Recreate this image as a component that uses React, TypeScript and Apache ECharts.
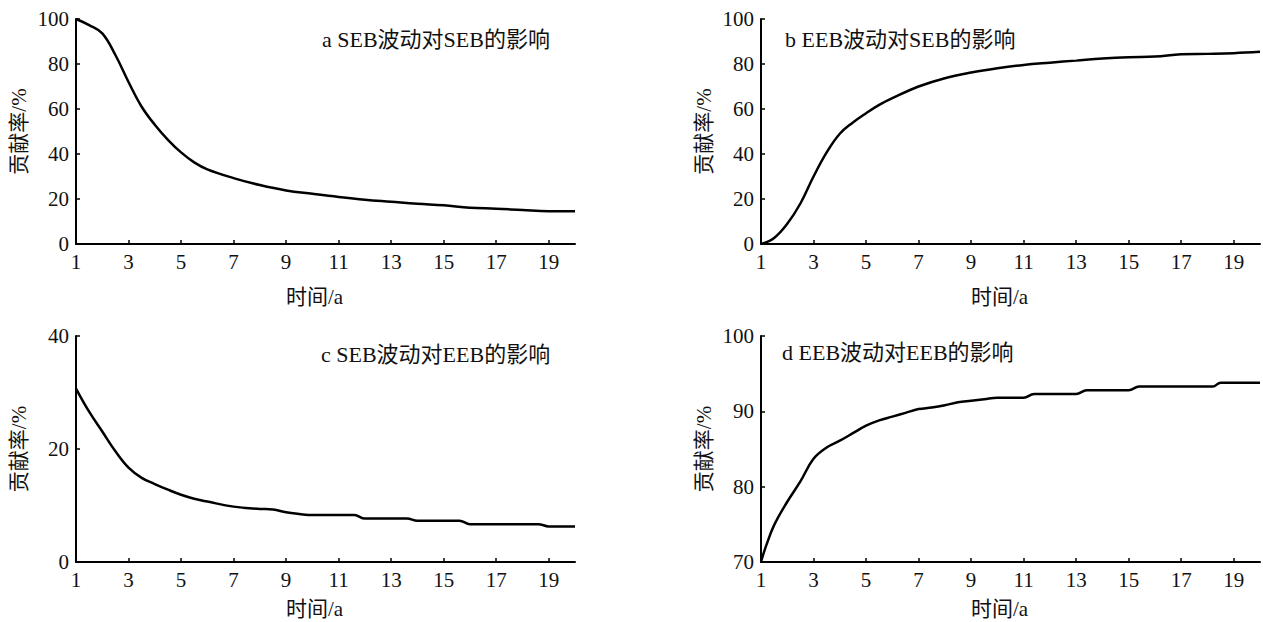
import React, { useEffect, useRef } from "react";
import * as echarts from "echarts";

const xTicks = [1, 3, 5, 7, 9, 11, 13, 15, 17, 19];

// a SEB波动对SEB的影响
const seriesA = [
  [1, 100], [1.5, 97.3], [2, 93.6], [2.5, 84], [3, 72], [3.5, 61], [4, 53], [4.5, 46.3],
  [5, 40.7], [5.5, 36.3], [6, 33.2], [7, 29.3], [8, 26.2], [9, 23.8], [10, 22.3], [11, 20.9],
  [12, 19.7], [13, 18.8], [14, 17.9], [15, 17.2], [16, 16.1], [17, 15.7], [18, 15.1],
  [19, 14.6], [20, 14.6],
];
// b EEB波动对SEB的影响
const seriesB = [
  [1, 0], [1.5, 2.7], [2, 9], [2.5, 18], [3, 30], [3.5, 40.7], [4, 49], [4.5, 54],
  [5, 58.1], [5.5, 61.8], [6, 64.8], [7, 70], [8, 73.7], [9, 76.2], [10, 78.1], [11, 79.6],
  [12, 80.6], [13, 81.5], [14, 82.4], [15, 83], [16, 83.3], [17, 84.3], [18, 84.5],
  [19, 84.8], [20, 85.4],
];
// c SEB波动对EEB的影响
const seriesC = [
  [1, 30.7], [1.5, 26.6], [2, 23.1], [2.5, 19.6], [3, 16.7], [3.5, 14.9], [4, 13.8],
  [4.5, 12.8], [5, 11.9], [5.5, 11.2], [6, 10.7], [7, 9.8], [8, 9.4], [8.5, 9.3], [9, 8.8],
  [9.5, 8.5], [10, 8.3], [11.6, 8.3], [12, 7.7], [13.6, 7.7], [14, 7.3], [15.6, 7.3],
  [16, 6.7], [18.6, 6.7], [19, 6.3], [20, 6.3],
];
// d EEB波动对EEB的影响
const seriesD = [
  [1, 70], [1.2, 72.2], [1.5, 74.9], [2, 78], [2.5, 80.7], [3, 83.7], [3.5, 85.2], [4, 86.1],
  [4.5, 87.1], [5, 88.1], [5.5, 88.8], [6, 89.3], [6.5, 89.8], [7, 90.3], [7.5, 90.5],
  [8, 90.8], [8.5, 91.2], [9, 91.4], [9.5, 91.6], [10, 91.8], [11, 91.8], [11.4, 92.3],
  [13, 92.3], [13.4, 92.8], [15, 92.8], [15.4, 93.3], [18.2, 93.3], [18.5, 93.8], [20, 93.8],
];

const titles = [
  "a SEB波动对SEB的影响",
  "b EEB波动对SEB的影响",
  "c SEB波动对EEB的影响",
  "d EEB波动对EEB的影响",
];
const yRanges = [
  [0, 100, 20],
  [0, 100, 20],
  [0, 40, 20],
  [70, 100, 10],
];
const xName = "时间/a";
const yName = "贡献率/%";

const FONT = "'Liberation Serif', 'Times New Roman', 'Noto Sans CJK SC', serif";

export default function App() {
  const ref = useRef<HTMLDivElement>(null);
  useEffect(() => {
    if (!ref.current) return;
    const chart = echarts.init(ref.current, undefined, { renderer: "svg" });
    const grids = [
      { left: 76, top: 19, width: 499, height: 225 },
      { left: 761, top: 19, width: 499, height: 225 },
      { left: 76, top: 336, width: 499, height: 226 },
      { left: 761, top: 336, width: 499, height: 226 },
    ];
    const titlePos = [
      { left: 322, top: 28 },
      { left: 785, top: 28 },
      { left: 321, top: 343 },
      { left: 782, top: 341 },
    ];
    const data = [seriesA, seriesB, seriesC, seriesD];
    const textBase = { color: "#111", fontFamily: FONT, fontSize: 21, fontWeight: "normal" };
    chart.setOption({
      animation: false,
      backgroundColor: "#fff",
      title: titles.map((t, i) => ({
        text: t,
        left: titlePos[i].left,
        top: titlePos[i].top,
        padding: 0,
        textStyle: { ...textBase, fontSize: 22 },
      })),
      grid: grids,
      xAxis: grids.map((_, i) => ({
        type: "value",
        gridIndex: i,
        min: 1,
        max: 20,
        axisLine: { onZero: false, lineStyle: { color: "#000", width: 2 } },
        axisTick: {
          inside: true,
          length: 4,
          customValues: xTicks,
          lineStyle: { color: "#000", width: 1.5 },
        },
        axisLabel: { ...textBase, customValues: xTicks, margin: 7 },
        splitLine: { show: false },
        name: xName,
        nameLocation: "middle",
        nameGap: i < 2 ? 42 : 36,
        nameTextStyle: { ...textBase, padding: [0, 22, 0, 0] },
      })),
      yAxis: grids.map((_, i) => ({
        type: "value",
        gridIndex: i,
        min: yRanges[i][0],
        max: yRanges[i][1],
        interval: yRanges[i][2],
        axisLine: { show: true, lineStyle: { color: "#000", width: 2 } },
        axisTick: {
          show: true,
          inside: true,
          length: 4,
          lineStyle: { color: "#000", width: 1.5 },
        },
        axisLabel: { ...textBase, margin: 7 },
        splitLine: { show: false },
        name: yName,
        nameLocation: "middle",
        nameGap: 47,
        nameTextStyle: { ...textBase },
      })),
      series: data.map((d, i) => ({
        type: "line",
        xAxisIndex: i,
        yAxisIndex: i,
        data: d,
        showSymbol: false,
        smooth: 0.4,
        lineStyle: { color: "#000", width: 2.5 },
      })),
    });
    return () => chart.dispose();
  }, []);
  return (
    <div
      ref={ref}
      style={{ position: "absolute", left: 0, top: 0, width: 1263, height: 622 }}
    />
  );
}
